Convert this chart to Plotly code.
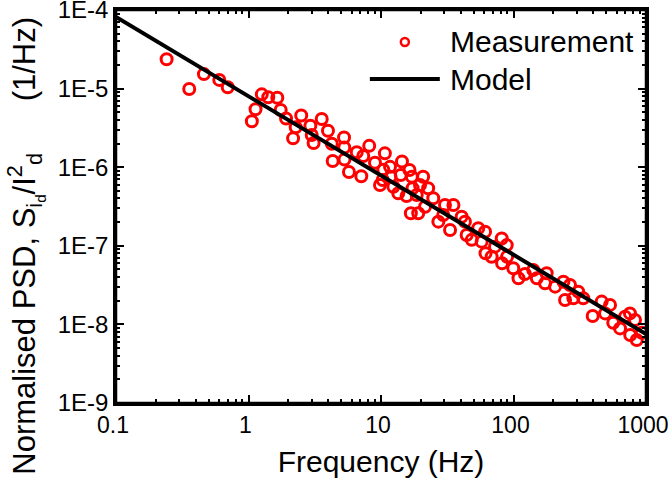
import plotly.graph_objects as go

# Measurement data (Frequency in Hz, normalised PSD in 1/Hz)
freq_meas = [0.241, 0.357, 0.461, 0.602, 0.697, 1.06, 1.13, 1.26, 1.41, 1.65,
             1.75, 1.92, 2.17, 2.27, 2.50, 2.93, 3.0, 3.10, 3.57, 3.98,
             4.25, 4.32, 5.26, 5.28, 5.30, 5.73, 6.56, 7.10, 7.35, 8.15,
             9.01, 9.83, 10.3, 10.4, 10.7, 11.7, 11.8, 12.4, 13.5, 14.1,
             14.4, 15.6, 16.4, 17.1, 17.3, 16.8, 18.6, 19.1, 19.7, 20.8,
             21.5, 22.7, 24.8, 27.1, 29.5, 30.4, 33.2, 35.2, 40.6, 43.0,
             44.3, 48.4, 54.2, 61.0, 57.5, 61.5, 68.4, 72.5, 81.5, 88.9,
             82.0, 89.5, 99.6, 109, 122, 141, 150, 173, 178, 206,
             238, 245, 267, 283, 308, 336, 396, 463, 491, 535,
             566, 637, 695, 757, 760, 826, 851, 929]
psd_meas = [2.36e-5, 9.9e-6, 1.53e-5, 1.29e-5, 1.04e-5, 3.84e-6, 5.46e-6, 8.45e-6, 7.75e-6, 7.64e-6,
            5.35e-6, 4.17e-6, 2.33e-6, 3.22e-6, 4.55e-6, 3.37e-6, 2.57e-6, 2.03e-6, 4.10e-6, 2.91e-6,
            1.99e-6, 1.20e-6, 2.39e-6, 1.78e-6, 1.25e-6, 8.7e-7, 1.55e-6, 7.66e-7, 1.39e-6, 1.87e-6,
            1.14e-6, 5.94e-7, 6.87e-7, 9.3e-7, 1.50e-6, 1.01e-6, 7.57e-7, 5.65e-7, 4.66e-7, 7.96e-7,
            1.18e-6, 4.31e-7, 9.2e-7, 7.57e-7, 5.40e-7, 2.59e-7, 4.43e-7, 2.59e-7, 5.94e-7, 7.57e-7,
            3.14e-7, 5.40e-7, 4.02e-7, 2.03e-7, 2.46e-7, 3.30e-7, 1.59e-7, 3.30e-7, 2.34e-7, 2.03e-7,
            1.37e-7, 1.19e-7, 1.67e-7, 1.51e-7, 1.13e-7, 8.04e-8, 7.27e-8, 9.75e-8, 1.24e-7, 1.02e-7,
            5.98e-8, 7.27e-8, 5.18e-8, 3.86e-8, 4.38e-8, 4.92e-8, 3.86e-8, 3.33e-8, 4.47e-8, 3.02e-8,
            3.49e-8, 2.04e-8, 3.17e-8, 2.15e-8, 2.61e-8, 2.15e-8, 1.28e-8, 1.95e-8, 1.38e-8, 1.77e-8,
            1.05e-8, 8.9e-9, 1.25e-8, 1.38e-8, 7.33e-9, 1.14e-8, 6.34e-9, 7.83e-9]

# Model (1/f fit)
freq_model = [0.1, 1000]
psd_model = [8.15e-5, 7.55e-9]

x_tickvals = [0.1, 1, 10, 100, 1000]
x_ticktext = ["0.1", "1", "10", "100", "1000"]
y_tickvals = [1e-9, 1e-8, 1e-7, 1e-6, 1e-5, 1e-4]
y_ticktext = ["1E-9", "1E-8", "1E-7", "1E-6", "1E-5", "1E-4"]

x_minor = [m * 10.0 ** e for e in range(-1, 3) for m in range(2, 10)]
y_minor = [m * 10.0 ** e for e in range(-9, -4) for m in range(2, 10)]

FONT = "Liberation Sans, Arial, sans-serif"

fig = go.Figure()
fig.add_trace(go.Scatter(
    x=freq_meas, y=psd_meas, mode="markers", name="Measurement",
    marker=dict(symbol="circle-open", size=11, color="#FF0000",
                line=dict(width=3, color="#FF0000")),
    showlegend=False))
fig.add_trace(go.Scatter(
    x=freq_model, y=psd_model, mode="lines", name="Model",
    line=dict(color="black", width=4), showlegend=False))

axis_common = dict(
    type="log", showgrid=False, zeroline=False, automargin=False,
    showline=True, linecolor="black", linewidth=2.5, mirror="allticks",
    ticks="inside", ticklen=8, tickwidth=2, tickcolor="black",
    tickmode="array", ticklabeloverflow="allow",
)

fig.update_xaxes(
    **axis_common, range=[-1, 3],
    tickvals=x_tickvals, ticktext=x_ticktext,
    tickfont=dict(family=FONT, size=23, color="black"),
    ticklabelshift=-3,
    minor=dict(ticks="inside", ticklen=4, tickwidth=1.5, tickcolor="black",
               tickmode="array", tickvals=x_minor),
    title=dict(text="Frequency (Hz)", font=dict(family=FONT, size=30, color="black"),
               standoff=14),
)
fig.update_yaxes(
    **axis_common, range=[-9, -4],
    tickvals=y_tickvals, ticktext=y_ticktext,
    tickfont=dict(family=FONT, size=24, color="black"),
    minor=dict(ticks="inside", ticklen=4, tickwidth=1.5, tickcolor="black",
               tickmode="array", tickvals=y_minor),
)

# Frame
fig.add_shape(type="rect", xref="paper", yref="paper", x0=0, x1=1, y0=0, y1=1,
              line=dict(color="black", width=2.5), layer="above")

# Y-axis title (placed as annotation to match original position)
fig.add_annotation(
    xref="paper", yref="paper", x=-0.170, y=0.40, textangle=-90,
    xanchor="center", yanchor="middle", showarrow=False,
    text="Normalised PSD, S<sub>i<sub>d</sub></sub>/I<sup>2</sup><sub>d</sub>&nbsp;&nbsp;&nbsp;&nbsp;&nbsp;&nbsp;(1/Hz)",
    font=dict(family=FONT, size=31, color="black"))

# Manual legend (paper coordinates)
fig.add_shape(type="circle", xref="paper", yref="paper",
              xsizemode="pixel", ysizemode="pixel",
              xanchor=0.545, yanchor=0.9186, x0=-4, x1=4, y0=-4, y1=4,
              line=dict(color="#FF0000", width=2.5))
fig.add_shape(type="line", xref="paper", yref="paper",
              x0=0.479, x1=0.611, y0=0.8244, y1=0.8244,
              line=dict(color="black", width=4))
fig.add_annotation(xref="paper", yref="paper", x=0.627, y=0.9186,
                   xanchor="left", yanchor="middle", showarrow=False,
                   text="Measurement", font=dict(family=FONT, size=30, color="black"))
fig.add_annotation(xref="paper", yref="paper", x=0.627, y=0.8244,
                   xanchor="left", yanchor="middle", showarrow=False,
                   text="Model", font=dict(family=FONT, size=30, color="black"))

fig.update_layout(
    width=670, height=491,
    margin=dict(l=116, r=24, t=10, b=88),
    paper_bgcolor="white", plot_bgcolor="white",
    showlegend=False,
)

fig.write_html("out.html")
